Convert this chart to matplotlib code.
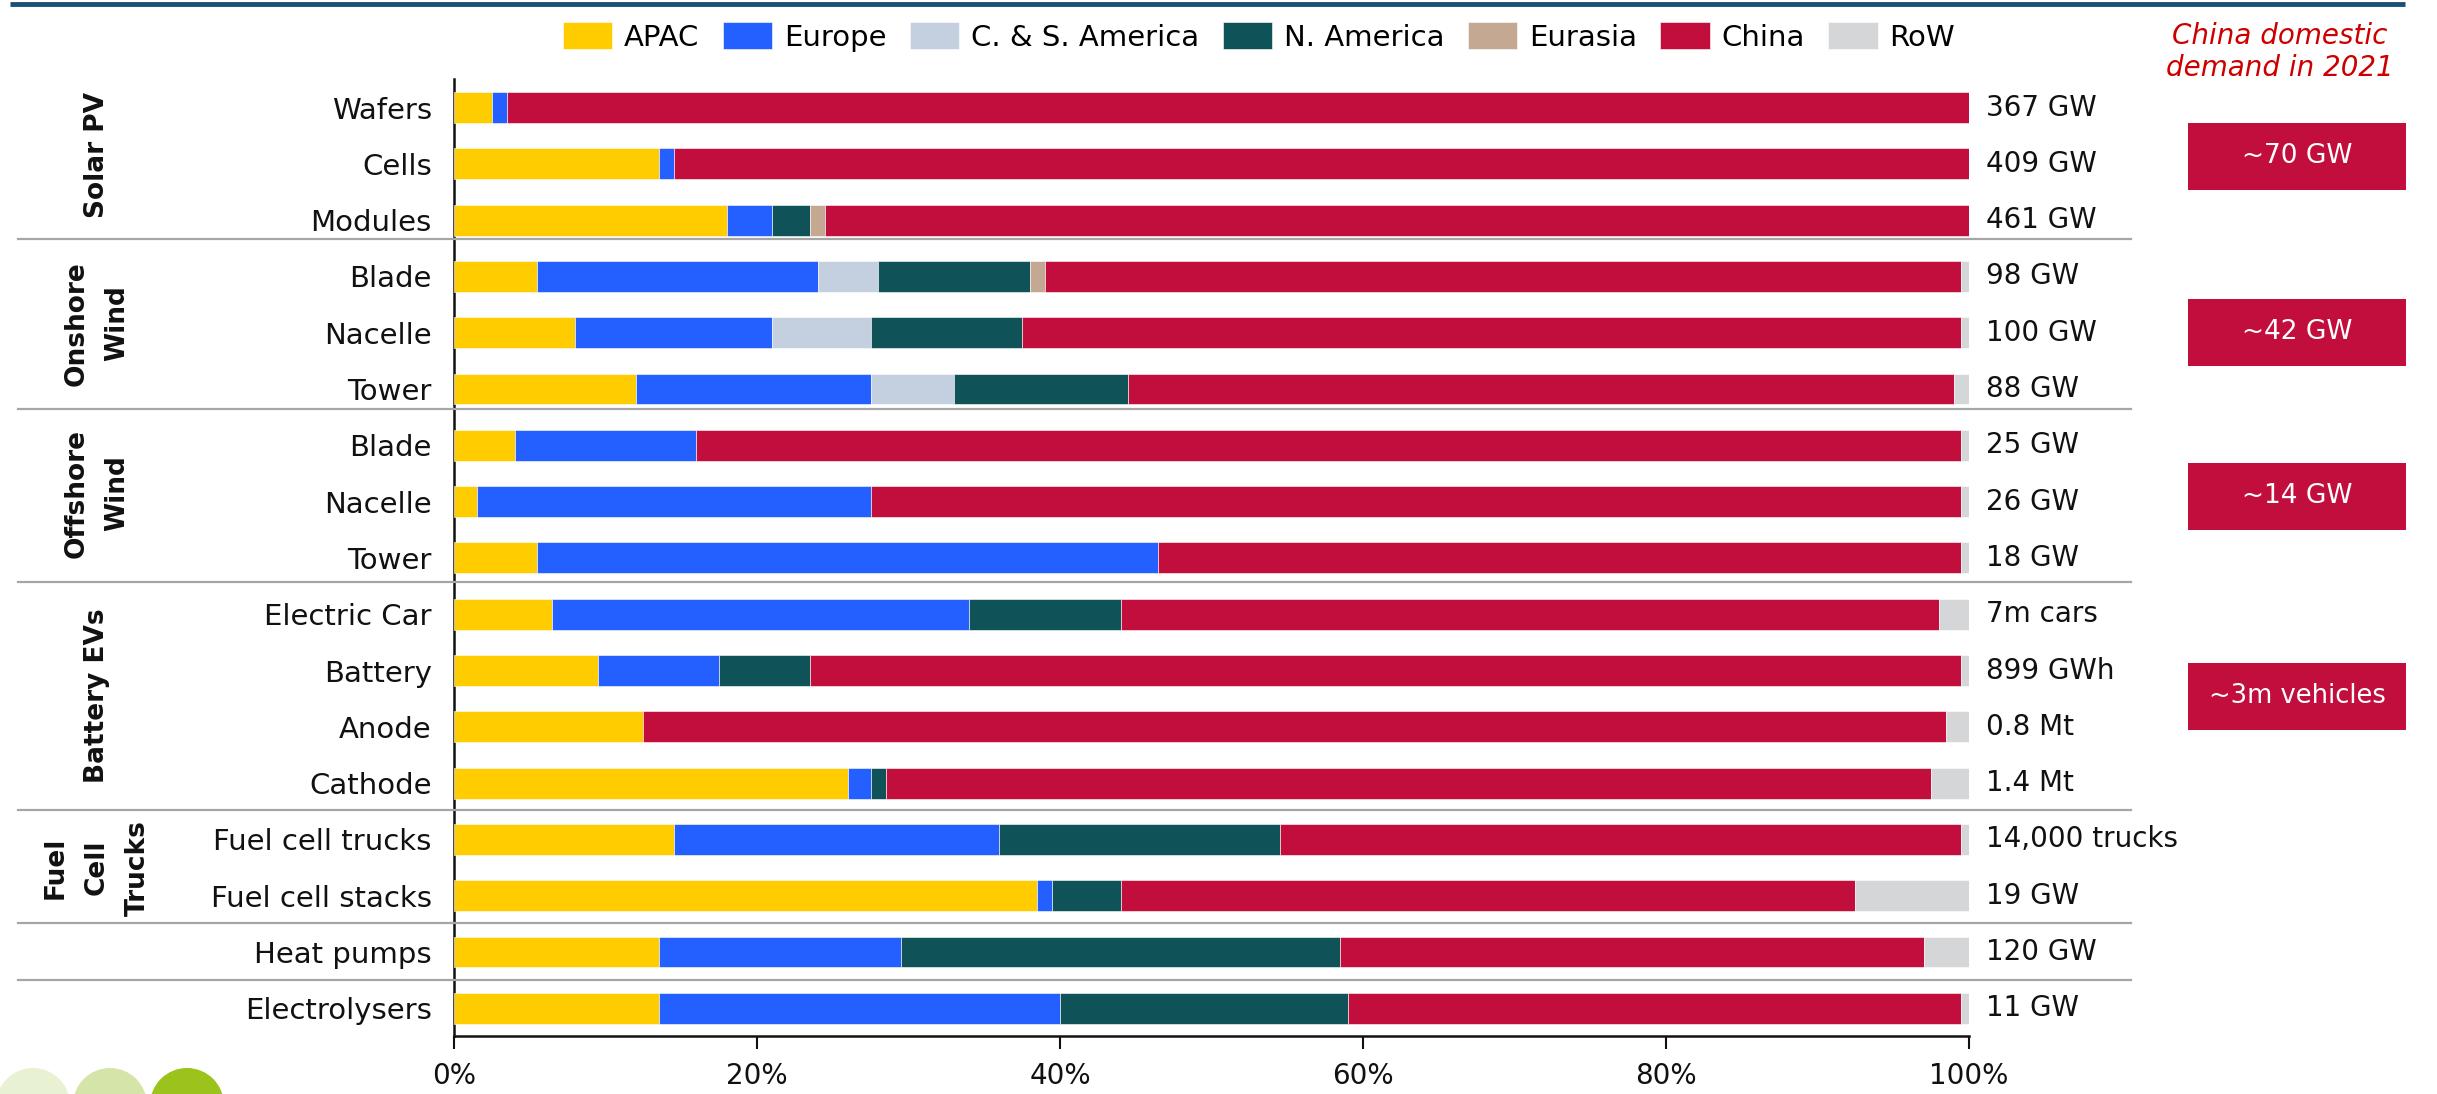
import matplotlib
matplotlib.use("Agg")
import matplotlib.pyplot as plt
import matplotlib.transforms as mtransforms
from matplotlib.patches import Rectangle, Circle
from matplotlib.lines import Line2D
import numpy as np

plt.rcParams['font.family'] = ['DejaVu Sans']

# ---------------- data ----------------
categories = ["Wafers", "Cells", "Modules",
              "Blade", "Nacelle", "Tower",
              "Blade", "Nacelle", "Tower",
              "Electric Car", "Battery", "Anode", "Cathode",
              "Fuel cell trucks", "Fuel cell stacks",
              "Heat pumps", "Electrolysers"]
regions = ["APAC", "Europe", "C. & S. America", "N. America", "Eurasia", "China", "RoW"]

apac    = [2.5, 13.5, 18.0, 5.5, 8.0, 12.0, 4.0, 1.5, 5.5, 6.5, 9.5, 12.5, 26.0, 14.5, 38.5, 13.5, 13.5]
europe  = [1.0, 1.0, 3.0, 18.5, 13.0, 15.5, 12.0, 26.0, 41.0, 27.5, 8.0, 0.0, 1.5, 21.5, 1.0, 16.0, 26.5]
csam    = [0.0, 0.0, 0.0, 4.0, 6.5, 5.5, 0.0, 0.0, 0.0, 0.0, 0.0, 0.0, 0.0, 0.0, 0.0, 0.0, 0.0]
namer   = [0.0, 0.0, 2.5, 10.0, 10.0, 11.5, 0.0, 0.0, 0.0, 10.0, 6.0, 0.0, 1.0, 18.5, 4.5, 29.0, 19.0]
eurasia = [0.0, 0.0, 1.0, 1.0, 0.0, 0.0, 0.0, 0.0, 0.0, 0.0, 0.0, 0.0, 0.0, 0.0, 0.0, 0.0, 0.0]
china   = [96.5, 85.5, 75.5, 60.5, 62.0, 54.5, 83.5, 72.0, 53.0, 54.0, 76.0, 86.0, 69.0, 45.0, 48.5, 38.5, 40.5]
row     = [0.0, 0.0, 0.0, 0.5, 0.5, 1.0, 0.5, 0.5, 0.5, 2.0, 0.5, 1.5, 2.5, 0.5, 7.5, 3.0, 0.5]

capacity_labels = ["367 GW", "409 GW", "461 GW", "98 GW", "100 GW", "88 GW",
                   "25 GW", "26 GW", "18 GW", "7m cars", "899 GWh", "0.8 Mt", "1.4 Mt",
                   "14,000 trucks", "19 GW", "120 GW", "11 GW"]

groups = ["Solar PV", "Onshore\nWind", "Offshore\nWind", "Battery EVs", "Fuel\nCell\nTrucks"]

china_demand_title = "China domestic\ndemand in 2021"
china_demand = ["~70 GW", "~42 GW", "~14 GW", "~3m vehicles"]

xticks = [0, 20, 40, 60, 80, 100]
xticklabels = ["0%", "20%", "40%", "60%", "80%", "100%"]

colors = ["#FFCC00", "#245FFF", "#C4CFE0", "#0F5257", "#C5A891", "#C20E3D", "#D5D6D8"]

# ---------------- layout ----------------
W, H = 2437, 1094
group_label_rows = [0.85, 3.83, 6.85, 10.45, 13.5]
separator_rows = [2.33, 5.35, 8.42, 12.47, 14.49, 15.5]
box_centers_px = [156, 332, 496, 696]

fig = plt.figure(figsize=(W / 100, H / 100), dpi=100)
fig.patch.set_facecolor("white")

ax_top_px, ax_bot_px = 78.8, 1035.9
ax_left_px, ax_right_px = 454, 1969
ax = fig.add_axes([ax_left_px / W, 1 - ax_bot_px / H,
                   (ax_right_px - ax_left_px) / W, (ax_bot_px - ax_top_px) / H])
ax.set_facecolor("none")

series = [apac, europe, csam, namer, eurasia, china, row]
y = np.arange(len(categories))
left = np.zeros(len(categories))
for name, vals, col in zip(regions, series, colors):
    vals = np.array(vals, dtype=float)
    mask = vals > 0
    ax.barh(y[mask], vals[mask], left=left[mask], height=0.55, color=col,
            edgecolor="white", linewidth=0.4, label=name, zorder=3)
    left += vals

ax.set_xlim(0, 100)
ax.set_ylim(16.49, -0.51)
ax.set_yticks(y)
ax.set_yticklabels(categories, fontsize=21, color="#111111")
ax.tick_params(axis="y", length=0, pad=16)
ax.set_xticks(xticks)
ax.set_xticklabels(xticklabels, fontsize=20, color="#111111")
ax.tick_params(axis="x", length=9, width=1.5, pad=10, direction="out", color="#111111")
for s in ["top", "right"]:
    ax.spines[s].set_visible(False)
for s in ["left", "bottom"]:
    ax.spines[s].set_linewidth(1.8)
    ax.spines[s].set_color("#111111")

# capacity labels on the right
for i, lab in enumerate(capacity_labels):
    ax.annotate(lab, xy=(1.0, i), xycoords=("axes fraction", "data"),
                xytext=(12, 0), textcoords="offset points",
                va="center", ha="left", fontsize=20, color="#111111",
                annotation_clip=False)

# group separators
blend = mtransforms.blended_transform_factory(fig.transFigure, ax.transData)
for ysep in separator_rows:
    fig.lines.append(Line2D([18 / W, 2131 / W], [ysep, ysep], transform=blend,
                            color="#A6A6A6", linewidth=1.6, zorder=1))

# group labels
for g, yc in zip(groups, group_label_rows):
    fig.text(97 / W, yc, g, transform=blend, rotation=90,
             ha="center", va="center", multialignment="center",
             fontsize=19, fontweight="bold", color="#111111", linespacing=1.75)

# legend
handles, labels = ax.get_legend_handles_labels()
fig.legend(handles, labels, loc="center", bbox_to_anchor=(1259 / W, 1 - 37 / H),
           ncol=7, frameon=False, fontsize=21, handlelength=1.7, handleheight=1.05,
           handletextpad=0.4, columnspacing=0.8, borderaxespad=0)

# overlay (pixel coordinates) for decorations
ov = fig.add_axes([0, 0, 1, 1], zorder=5)
ov.set_xlim(0, W)
ov.set_ylim(H, 0)
ov.axis("off")
ov.patch.set_visible(False)

# top rule
ov.plot([10, 2405], [4, 4], color="#1A4F78", linewidth=3.5, solid_capstyle="butt")

# China demand column
ov.text(2280, 52, china_demand_title, ha="center", va="center", fontsize=20,
        style="italic", color="#CC0000", linespacing=1.15)
for txt, cy in zip(china_demand, box_centers_px):
    ov.add_patch(Rectangle((2188, cy - 33.5), 218, 67, facecolor="#C20E3D",
                           edgecolor="none"))
    ov.text(2297, cy, txt, ha="center", va="center",
            fontsize=19 if len(txt) < 8 else 18.5, color="white")

# decorative circles bottom-left
for cx, col in zip([33, 110, 187], ["#E9F1D3", "#D5E4A8", "#9CC21C"]):
    ov.add_patch(Circle((cx, 1105), 37, facecolor=col, edgecolor="none"))

fig.savefig("out.png", dpi=100, facecolor="white")
